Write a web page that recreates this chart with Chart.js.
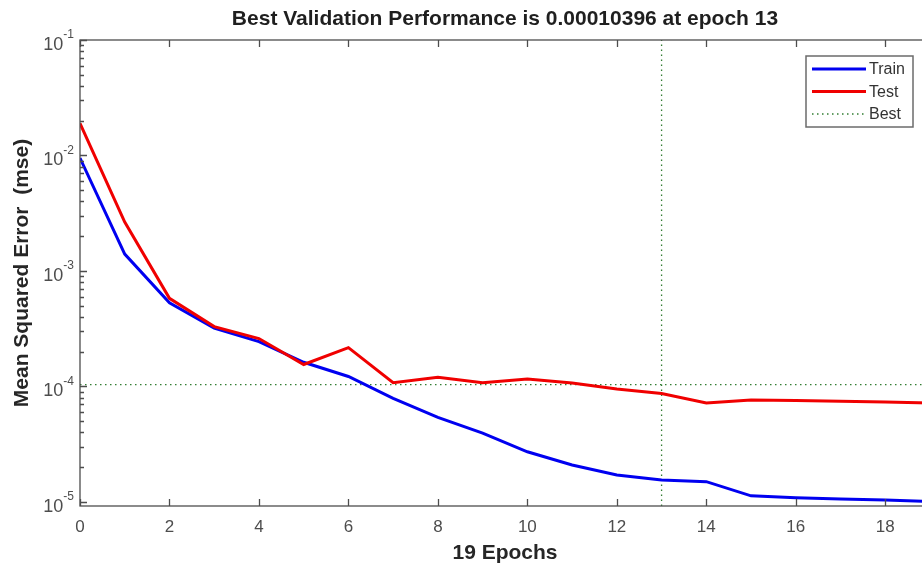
<!DOCTYPE html>
<html>
<head>
<meta charset="utf-8">
<title>Best Validation Performance</title>
<script src="https://cdn.jsdelivr.net/npm/chart.js@4.4.0/dist/chart.umd.min.js"></script>
<style>
    html, body { margin: 0; padding: 0; background: #fff; overflow: hidden; }
    /* the original figure is cropped just left of its right axis */
    #wrap { width: 922px; height: 566px; overflow: hidden; }
</style>
</head>
<body>
<div id="wrap"><canvas id="perfChart" width="931" height="566"></canvas></div>
<script>
// values
const epochs = [0, 1, 2, 3, 4, 5, 6, 7, 8, 9, 10, 11, 12, 13, 14, 15, 16, 17, 18, 19];
const trainMse = [0.0095, 0.0014, 5.3e-4, 3.2e-4, 2.45e-4, 1.62e-4, 1.22e-4, 7.9e-5, 5.4e-5, 3.95e-5,
    2.72e-5, 2.09e-5, 1.71e-5, 1.55e-5, 1.5e-5, 1.13e-5, 1.09e-5, 1.06e-5, 1.04e-5, 1.01e-5];
const testMse = [0.019, 0.00265, 5.8e-4, 3.3e-4, 2.6e-4, 1.55e-4, 2.17e-4, 1.08e-4, 1.2e-4, 1.08e-4,
    1.16e-4, 1.07e-4, 9.5e-5, 8.7e-5, 7.2e-5, 7.65e-5, 7.55e-5, 7.45e-5, 7.35e-5, 7.2e-5];
const bestEpoch = 13;
const bestPerf = 0.00010396;
const xTicks = [0, 2, 4, 6, 8, 10, 12, 14, 16, 18];
const yDecades = [1e-5, 1e-4, 1e-3, 1e-2, 1e-1];
const yMin = 9.23e-6;
const yMax = 0.1;

const FONT = '"Liberation Sans", Arial, sans-serif';
const AXIS_COLOR = '#4d4d4d';
const BEST_COLOR = 'rgb(50,125,50)';

const toPoints = (xs, ys) => xs.map((x, i) => ({ x: x, y: ys[i] }));

// box, inward ticks, y tick labels with exponents, legend inside the axes
const matlabAxes = {
    id: 'matlabAxes',
    afterDatasetsDraw(chart) {
        const ctx = chart.ctx;
        const area = chart.chartArea;
        const xs = chart.scales.x;
        const ys = chart.scales.y;
        ctx.save();
        ctx.strokeStyle = AXIS_COLOR;
        ctx.lineWidth = 1.3;
        ctx.strokeRect(area.left, area.top, area.right - area.left, area.bottom - area.top);

        // x ticks, bottom and top
        ctx.beginPath();
        xTicks.forEach(v => {
            const px = Math.round(xs.getPixelForValue(v)) + 0.5;
            ctx.moveTo(px, area.bottom); ctx.lineTo(px, area.bottom - 7);
            ctx.moveTo(px, area.top); ctx.lineTo(px, area.top + 7);
        });
        // y ticks, left and right, log minor ticks
        for (let d = -6; d <= -1; d++) {
            for (let k = 1; k <= 9; k++) {
                const v = k * Math.pow(10, d);
                if (v < yMin || v > yMax * 1.0001) continue;
                const py = Math.round(ys.getPixelForValue(v)) + 0.5;
                const len = k === 1 ? 7 : 4;
                ctx.moveTo(area.left, py); ctx.lineTo(area.left + len, py);
                ctx.moveTo(area.right, py); ctx.lineTo(area.right - len, py);
            }
        }
        ctx.stroke();

        // y tick labels 10^n
        ctx.fillStyle = AXIS_COLOR;
        ctx.textBaseline = 'middle';
        ctx.textAlign = 'right';
        yDecades.forEach(v => {
            const py = ys.getPixelForValue(v);
            const exp = String(Math.round(Math.log10(v)));
            ctx.font = '12px ' + FONT;
            const ew = ctx.measureText(exp).width;
            ctx.fillText(exp, area.left - 6, py - 5);
            ctx.font = '18px ' + FONT;
            ctx.fillText('10', area.left - 6 - ew, py + 5);
        });

        // legend
        const bx = 806, by = area.top + 16, bw = 107, bh = 71;
        ctx.fillStyle = '#fff';
        ctx.fillRect(bx, by, bw, bh);
        ctx.strokeStyle = '#6b6b6b';
        ctx.lineWidth = 1.5;
        ctx.strokeRect(bx, by, bw, bh);
        const items = chart.data.datasets.filter(ds => ds.label);
        items.forEach((ds, i) => {
            const ry = by + 13 + i * 22.5;
            ctx.beginPath();
            ctx.strokeStyle = ds.borderColor;
            ctx.lineWidth = ds.borderWidth;
            ctx.setLineDash(ds.borderDash || []);
            ctx.moveTo(bx + 6, ry); ctx.lineTo(bx + 60, ry);
            ctx.stroke();
            ctx.setLineDash([]);
            ctx.fillStyle = '#333';
            ctx.font = '16px ' + FONT;
            ctx.textAlign = 'left';
            ctx.fillText(ds.label, bx + 63, ry + 1);
        });
        ctx.restore();
    }
};

const ctx = document.getElementById('perfChart').getContext('2d');
const perfChart = new Chart(ctx, {
    type: 'line',
    data: {
        datasets: [
            {
                label: 'Train',
                data: toPoints(epochs, trainMse),
                borderColor: '#0000f0',
                borderWidth: 3,
                order: 2
            },
            {
                label: 'Test',
                data: toPoints(epochs, testMse),
                borderColor: '#f00000',
                borderWidth: 3,
                order: 1
            },
            {
                label: 'Best',
                data: [{ x: epochs[0], y: bestPerf }, { x: epochs[epochs.length - 1], y: bestPerf }],
                borderColor: BEST_COLOR,
                borderWidth: 1.3,
                borderDash: [1.5, 3.5],
                order: 3
            },
            {
                data: [{ x: bestEpoch, y: yMin }, { x: bestEpoch, y: yMax }],
                borderColor: BEST_COLOR,
                borderWidth: 1.3,
                borderDash: [1.5, 3.5],
                order: 3
            }
        ]
    },
    options: {
        responsive: false,
        animation: false,
        devicePixelRatio: 1,
        layout: { padding: { left: 0, right: 1, top: 0, bottom: 0 } },
        elements: { point: { radius: 0 }, line: { tension: 0 } },
        plugins: {
            legend: { display: false },
            tooltip: { enabled: false },
            title: {
                display: true,
                fullSize: false,
                text: 'Best Validation Performance is 0.00010396 at epoch 13',
                color: '#1f1f1f',
                font: { family: FONT, size: 21, weight: 'bold' },
                padding: { top: 6.4, bottom: 8.4 }
            }
        },
        scales: {
            x: {
                type: 'linear',
                min: 0,
                max: 19,
                grid: { display: false, drawTicks: false },
                border: { display: false },
                ticks: {
                    stepSize: 2,
                    includeBounds: false,
                    padding: 11,
                    color: AXIS_COLOR,
                    font: { family: FONT, size: 17 }
                },
                title: {
                    display: true,
                    text: '19 Epochs',
                    color: '#262626',
                    font: { family: FONT, size: 21, weight: 'bold' },
                    padding: { top: 0, bottom: 0 }
                },
                afterFit(scale) { scale.height = 60; }
            },
            y: {
                type: 'logarithmic',
                min: yMin,
                max: yMax,
                grid: { display: false, drawTicks: false },
                border: { display: false },
                ticks: { display: false },
                title: {
                    display: true,
                    text: 'Mean Squared Error  (mse)',
                    color: '#262626',
                    font: { family: FONT, size: 21, weight: 'bold' },
                    padding: { top: 9.4, bottom: 0 }
                },
                afterFit(scale) { scale.width = 80; }
            }
        }
    },
    plugins: [matlabAxes]
});
</script>
</body>
</html>
